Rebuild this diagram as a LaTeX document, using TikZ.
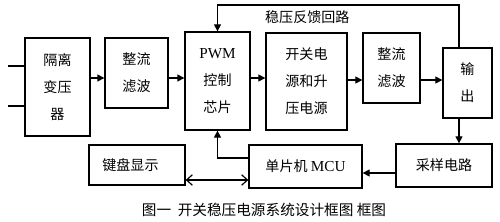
\documentclass[tikz,border=0pt]{standalone}
\usepackage{fontspec}
\setmainfont{Liberation Serif}
\newfontfamily\cjk{Noto Sans CJK SC}
\usetikzlibrary{arrows.meta}
\tikzset{
  blk/.style={draw, line width=1.1pt, align=center, inner sep=0pt,
    font=\cjk\fontsize{12}{23}\selectfont},
  arr/.style={line width=1.1pt, -{Triangle[length=6pt,width=6pt]}},
  dblarr/.style={line width=1pt, {Straight Barb[length=5pt,width=9pt]}-{Straight Barb[length=5pt,width=9pt]}}
}
\begin{document}
\begin{tikzpicture}[x=0.03cm, y=-0.03cm]
  \useasboundingbox (0,0) rectangle (500,221);
  % Blocks
  \node[blk, minimum width=1.95cm, minimum height=2.94cm] (iso) at (57.5,87) {隔离\\变压\\器};
  \node[blk, minimum width=1.89cm, minimum height=2.1cm] (filt1) at (136.5,73) {整流\\滤波};
  \node[blk, minimum width=1.95cm, minimum height=2.94cm] (pwm) at (217.5,81) {{\rmfamily\fontsize{13}{23}\selectfont PWM}\\控制\\芯片};
  \node[blk, minimum width=2.43cm, minimum height=2.91cm] (sw) at (306.5,81.5) {开关电\\源和升\\压电源};
  \node[blk, minimum width=1.71cm, minimum height=2.1cm] (filt2) at (391.5,68) {整流\\滤波};
  \node[blk, minimum width=1.47cm, minimum height=2.1cm] (out) at (467.5,83) {输\\出};
  \node[blk, minimum width=2.88cm, minimum height=1.29cm] (samp) at (444,165.5) {采样电路};
  \node[blk, minimum width=3.39cm, minimum height=1.29cm] (mcu) at (305.5,166.5) {单片机 {\rmfamily\fontsize{13}{23}\selectfont MCU}};
  \node[blk, minimum width=2.88cm, minimum height=1.2cm, text width=2.88cm, align=left] (kbd) at (137,165) {\hspace{0.4cm}键盘显示};
  % Helper coordinates
  \coordinate (row1) at (0,78);
  \coordinate (row2) at (0,80);
  \coordinate (fbx) at (459,5);
  \coordinate (in1) at (8,66);
  \coordinate (in2) at (8,106);
  \coordinate (ctl) at (0,158);
  \coordinate (smp) at (0,173);
  \coordinate (kb) at (0,180);
  % Input lines
  \draw[line width=1.1pt] (in1) -- (iso.west |- in1);
  \draw[line width=1.1pt] (in2) -- (iso.west |- in2);
  % Forward path
  \draw[arr] (iso.east |- row1) -- (filt1.west |- row1);
  \draw[arr] (filt1.east |- row1) -- (pwm.west |- row1);
  \draw[arr] (pwm.east |- row1) -- (sw.west |- row1);
  \draw[arr] (sw.east |- row2) -- (filt2.west |- row2);
  \draw[arr] (filt2.east |- row2) -- (out.west |- row2);
  % Feedback loop
  \draw[arr] (out.north -| fbx) -- (fbx) -| (pwm.north);
  \node[font=\cjk\fontsize{12}{14}\selectfont, anchor=west] (fblbl) at (261,17) {稳压反馈回路};
  % Sampling and MCU
  \draw[arr] (out.south -| fbx) -- (samp.north -| fbx);
  \draw[arr] (samp.west |- smp) -- (mcu.east |- smp);
  \draw[arr] (mcu.west |- ctl) -| (pwm.south);
  \draw[dblarr] (kbd.east |- kb) -- (mcu.west |- kb);
  % Caption
  \node[font=\cjk\fontsize{12.5}{14}\selectfont] (cap) at (264,210) {图一\ \ 开关稳压电源系统设计框图\ 框图};
\end{tikzpicture}
\end{document}
